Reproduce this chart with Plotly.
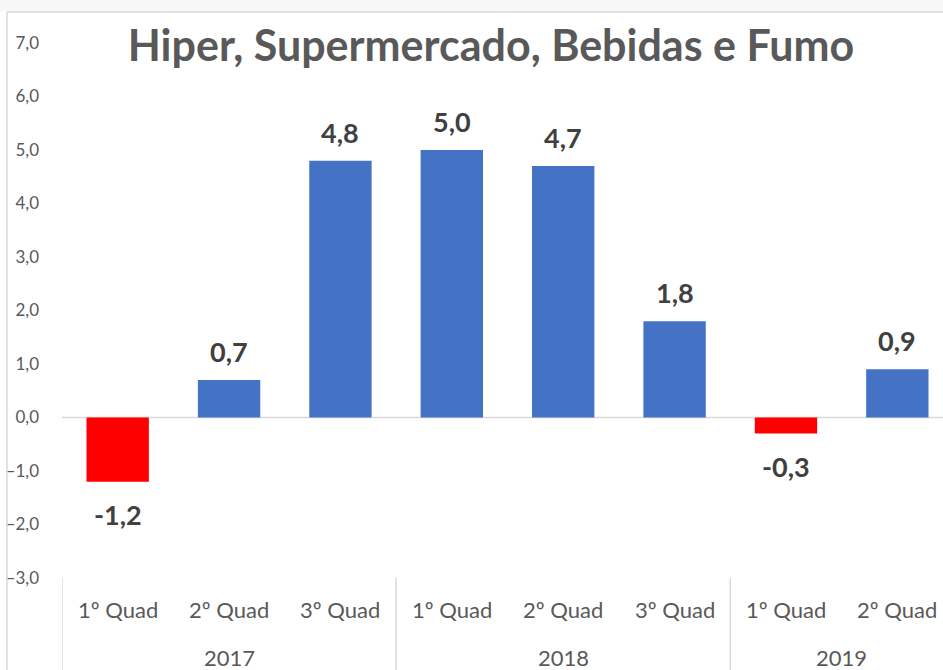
import plotly.graph_objects as go

categories = ["1º Quad", "2º Quad", "3º Quad", "1º Quad", "2º Quad", "3º Quad", "1º Quad", "2º Quad"]
years = ["2017", "2018", "2019"]
year_groups = [[0, 1, 2], [3, 4, 5], [6, 7]]
values = [-1.2, 0.7, 4.8, 5.0, 4.7, 1.8, -0.3, 0.9]
y_ticks = [-3, -2, -1, 0, 1, 2, 3, 4, 5, 6, 7]
title = "Hiper, Supermercado, Bebidas e Fumo"

BLUE = "#4472C4"
RED = "#FF0000"
FONT = "Lato"

xs = list(range(len(values)))
colors = [RED if v < 0 else BLUE for v in values]

fig = go.Figure()
fig.add_trace(go.Bar(x=xs, y=values, marker=dict(color=colors, line=dict(width=0)),
                     width=0.56, hoverinfo="skip"))

annotations = []
for x, v in zip(xs, values):
    annotations.append(dict(
        x=x, y=v, xref="x", yref="y",
        text=f"<b>{v:.1f}</b>".replace(".", ","),
        showarrow=False,
        yanchor="bottom" if v >= 0 else "top",
        yshift=10 if v >= 0 else -14,
        font=dict(family=FONT, size=27, color="#404040"),
    ))
for x, c in zip(xs, categories):
    annotations.append(dict(
        x=x, y=0, xref="x", yref="paper", text=c, showarrow=False,
        yanchor="middle", yshift=-31,
        font=dict(family=FONT, size=22, color="#595959"),
    ))
for yr, grp in zip(years, year_groups):
    annotations.append(dict(
        x=sum(grp) / len(grp), y=0, xref="x", yref="paper", text=yr, showarrow=False,
        yanchor="middle", yshift=-79,
        font=dict(family=FONT, size=22, color="#595959"),
    ))

shapes = []
# group separators
for b in [-0.5, 2.5, 5.5]:
    shapes.append(dict(type="line", xref="x", yref="paper", x0=b, x1=b, y0=0, y1=-0.2,
                       line=dict(color="#D9D9D9", width=1.5)))
# zero line
shapes.append(dict(type="line", xref="paper", yref="y", x0=0, x1=1, y0=0, y1=0,
                   line=dict(color="#D9D9D9", width=1.5), layer="below"))
# excel chart border + top band
shapes.append(dict(type="rect", xref="paper", yref="paper", x0=-0.1, x1=1.1,
                   y0=1 + 32 / 535, y1=1.2, fillcolor="#F7F7F7", line=dict(width=0), layer="below"))
shapes.append(dict(type="line", xref="paper", yref="paper", x0=-55 / 881, x1=1.1,
                   y0=1 + 31 / 535, y1=1 + 31 / 535, line=dict(color="#D9D9D9", width=1.5)))
shapes.append(dict(type="line", xref="paper", yref="paper", x0=-55 / 881, x1=-55 / 881,
                   y0=1 + 31 / 535, y1=-0.2, line=dict(color="#D9D9D9", width=1.5)))

fig.update_layout(
    width=943, height=670,
    margin=dict(l=62, r=0, t=43, b=92),
    paper_bgcolor="white", plot_bgcolor="white",
    separators=",.",
    showlegend=False,
    title=dict(text=f"<b>{title}</b>", x=491 / 943, xanchor="center", xref="container",
               y=1 - 46 / 670, yanchor="middle", yref="container",
               font=dict(family=FONT, size=43, color="#595959")),
    xaxis=dict(range=[-0.5, 7.41], showticklabels=False, showgrid=False, zeroline=False,
               showline=False, fixedrange=True),
    yaxis=dict(range=[-3, 7], tickvals=y_ticks, tickformat=".1f", showgrid=False,
               zeroline=False, showline=False, ticklabelstandoff=22,
               tickfont=dict(family=FONT, size=17, color="#595959")),
    annotations=annotations,
    shapes=shapes,
)

fig.write_html("out.html", config={"displayModeBar": False},
               post_script="document.body.style.margin='0';document.body.style.overflow='hidden';")
